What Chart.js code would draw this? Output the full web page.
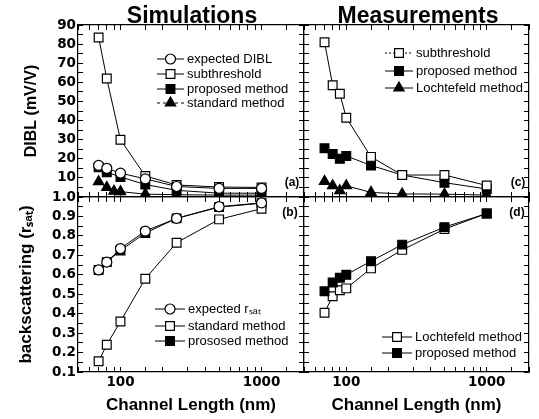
<!DOCTYPE html>
<html>
<head>
<meta charset="utf-8">
<script src="https://cdn.jsdelivr.net/npm/chart.js@4.4.0/dist/chart.umd.min.js"></script>
<style>
body { margin: 0; background: #fff; }
#wrap { position: relative; width: 539px; height: 419px; }
#wrap canvas { position: absolute; left: 0; top: 0; }
</style>
</head>
<body>
<div id="wrap">
    <canvas id="simDibl" width="539" height="419"></canvas>
    <canvas id="measDibl" width="539" height="419"></canvas>
    <canvas id="simRsat" width="539" height="419"></canvas>
    <canvas id="measRsat" width="539" height="419"></canvas>
</div>
<script>
/* =========================
   Data
========================= */
const simLength = [70, 80, 100, 150, 250, 500, 1000];
const simStdLength = [70, 80, 90, 100, 150, 250, 500, 1000];
const measLength = [70, 80, 90, 100, 150, 250, 500, 1000];

// (a) simulations, DIBL (mV/V)
const simExpectedDibl = [16.5, 15, 12.5, 9.5, 5.5, 4.5, 4.5];
const simSubthreshold = [83.5, 62, 30, 11, 6.3, 5.2, 5];
const simProposedDibl = [15.5, 13, 10.5, 6.5, 3.5, 2, 2];
const simStandardDibl = [8, 5, 3, 2.8, 1.5, 1.2, 1, 1];

// (c) measurements, DIBL (mV/V)
const measSubthreshold = [81, 58.5, 54, 41.5, 21, 11.5, 11.5, 6];
const measProposedDibl = [25.5, 22.5, 20, 21.5, 16.5, 11.5, 7.5, 4.2];
const measLochtefeldDibl = [8.2, 5.9, 3.3, 5.9, 2.4, 1.6, 1.5, 1];

// (b) simulations, backscattering
const simExpectedRsat = [0.625, 0.665, 0.735, 0.825, 0.89, 0.95, 0.97];
const simStandardRsat = [0.155, 0.24, 0.36, 0.58, 0.765, 0.885, 0.94];
const simProposedRsat = [0.625, 0.665, 0.725, 0.815, 0.89, 0.948, 0.968];

// (d) measurements, backscattering
const measLochtefeldRsat = [0.405, 0.49, 0.52, 0.53, 0.633, 0.728, 0.835, 0.915];
const measProposedRsat = [0.515, 0.56, 0.585, 0.6, 0.67, 0.755, 0.845, 0.915];

// tick labels
const diblTicks = [10, 20, 30, 40, 50, 60, 70, 80, 90];
const rsatTicks = [0.1, 0.2, 0.3, 0.4, 0.5, 0.6, 0.7, 0.8, 0.9, 1.0];
const lengthTicks = [100, 1000];


/* =========================
   Styles
========================= */
const TICK_FONT = { family: "'DejaVu Sans', sans-serif", size: 13.5, weight: "bold" };
const SANS = "'Liberation Sans', Arial, sans-serif";

const MARKERS = {
    openCircle: { pointStyle: "circle", r: 5, fill: "#fff" },
    openSquare: { pointStyle: "rect", r: 6.2, fill: "#fff" },
    filledSquare: { pointStyle: "rect", r: 6.2, fill: "#000" },
    triangle: { pointStyle: "triangle", r: 6, fill: "#000" }
};

function series(label, xs, ys, marker, legendDash, order) {
    const m = MARKERS[marker];
    return {
        label: label,
        data: xs.map((x, i) => ({ x: x, y: ys[i] })),
        borderColor: "#000",
        borderWidth: 1,
        legendDash: legendDash || [],
        pointStyle: m.pointStyle,
        pointRadius: m.r,
        pointBackgroundColor: m.fill,
        pointBorderColor: "#000",
        pointBorderWidth: 1.2,
        fill: false,
        tension: 0,
        order: order || 0
    };
}

function logAxis(position, showLabels) {
    return {
        type: "logarithmic",
        position: position,
        min: 50,
        max: 2000,
        border: { display: true, color: "#000", width: 1.2 },
        grid: { drawOnChartArea: false, drawTicks: true, tickLength: -5, tickColor: "#000", tickWidth: 1 },
        ticks: {
            display: showLabels,
            autoSkip: false,
            maxRotation: 0,
            padding: 7,
            color: "#000",
            font: TICK_FONT,
            callback: v => lengthTicks.includes(v) ? String(v) : ""
        },
        title: {
            display: showLabels,
            text: "Channel Length (nm)",
            color: "#000",
            font: { family: SANS, size: 17, weight: "bold" },
            padding: { top: 0, bottom: 3 }
        },
        afterFit: s => { s.height = showLabels ? 47 : 0; }
    };
}

function linAxis(position, min, max, step, labels, digits, width, title) {
    return {
        type: "linear",
        position: position,
        min: min,
        max: max,
        border: { display: true, color: "#000", width: 1.2 },
        grid: { drawOnChartArea: false, drawTicks: true, tickLength: -5, tickColor: "#000", tickWidth: 1 },
        ticks: {
            display: width > 0,
            autoSkip: false,
            stepSize: step,
            padding: 7,
            color: "#000",
            font: TICK_FONT,
            callback: v => {
                const hit = labels.find(t => Math.abs(t - v) < 1e-6);
                return hit === undefined ? "" : hit.toFixed(digits);
            }
        },
        title: title ? {
            display: true,
            text: title.text,
            color: "#000",
            font: { family: SANS, size: title.size, weight: "bold" },
            padding: { top: title.pad, bottom: 0 }
        } : { display: false },
        afterFit: s => { s.width = width; }
    };
}


/* =========================
   Decorations (legend, tags, headings)
========================= */
function drawMarker(ctx, style, r, x, y) {
    ctx.beginPath();
    if (style === "circle") {
        ctx.arc(x, y, r, 0, Math.PI * 2);
    } else if (style === "rect") {
        const s = r * Math.SQRT1_2;
        ctx.rect(x - s, y - s, 2 * s, 2 * s);
    } else {
        ctx.moveTo(x, y - r);
        ctx.lineTo(x + r * 0.866, y + r * 0.5);
        ctx.lineTo(x - r * 0.866, y + r * 0.5);
        ctx.closePath();
    }
    ctx.fill();
    ctx.stroke();
}

const decorPlugin = {
    id: "decor",
    afterDraw(chart, args, opts) {
        const ctx = chart.ctx;
        ctx.save();
        ctx.fillStyle = "#000";

        if (opts.heading) {
            ctx.font = "bold 23px " + SANS;
            ctx.textAlign = "center";
            ctx.textBaseline = "alphabetic";
            ctx.fillText(opts.heading.text, opts.heading.x, opts.heading.y);
        }

        if (opts.tag) {
            ctx.font = "bold 12px " + SANS;
            ctx.textAlign = "center";
            ctx.textBaseline = "middle";
            ctx.fillText(opts.tag.text, opts.tag.x, opts.tag.y);
        }

        if (opts.legend) {
            const lg = opts.legend;
            ctx.font = "13px " + SANS;
            ctx.textAlign = "left";
            ctx.textBaseline = "middle";
            chart.data.datasets.forEach((ds, i) => {
                const y = lg.rows[i];
                ctx.strokeStyle = "#000";
                ctx.lineWidth = 1;
                ctx.setLineDash(ds.legendDash);
                ctx.beginPath();
                ctx.moveTo(lg.x, y);
                ctx.lineTo(lg.x + lg.w, y);
                ctx.stroke();
                ctx.setLineDash([]);
                ctx.lineWidth = 1.2;
                ctx.fillStyle = ds.pointBackgroundColor;
                drawMarker(ctx, ds.pointStyle, ds.pointRadius, lg.x + lg.w / 2, y);
                ctx.fillStyle = "#000";
                ctx.fillText(ds.label, lg.x + lg.w + 3, y);
            });
        }
        ctx.restore();
    }
};

function makeChart(id, datasets, scales, padding, decor) {
    new Chart(document.getElementById(id), {
        type: "line",
        data: { datasets: datasets },
        options: {
            responsive: false,
            animation: false,
            devicePixelRatio: 1,
            events: [],
            layout: { padding: padding },
            scales: scales,
            plugins: {
                legend: { display: false },
                tooltip: { enabled: false },
                decor: decor
            }
        },
        plugins: [decorPlugin]
    });
}


/* =========================
   (a) Simulations - DIBL
========================= */
makeChart("simDibl", [
    series("expected DIBL", simLength, simExpectedDibl, "openCircle"),
    series("subthreshold", simLength, simSubthreshold, "openSquare"),
    series("proposed method", simLength, simProposedDibl, "filledSquare"),
    series("standard method", simStdLength, simStandardDibl, "triangle", [3, 3])
], {
    x: logAxis("bottom", false),
    xTop: logAxis("top", false),
    y: linAxis("left", 0, 90, 5, diblTicks, 0, 78, { text: "DIBL (mV/V)", size: 16, pad: 22 }),
    yRight: linAxis("right", 0, 90, 5, diblTicks, 0, 0)
}, { left: 0, top: 25, right: 235, bottom: 222 }, {
    heading: { text: "Simulations", x: 192, y: 23 },
    tag: { text: "(a)", x: 292, y: 183 },
    legend: { x: 157, w: 27, rows: [59, 74, 89, 103] }
});


/* =========================
   (c) Measurements - DIBL
========================= */
makeChart("measDibl", [
    series("subthreshold", measLength, measSubthreshold, "openSquare", [2, 2]),
    series("proposed method", measLength, measProposedDibl, "filledSquare"),
    series("Lochtefeld method", measLength, measLochtefeldDibl, "triangle")
], {
    x: logAxis("bottom", false),
    xTop: logAxis("top", false),
    y: linAxis("left", 0, 90, 5, diblTicks, 0, 0),
    yRight: linAxis("right", 0, 90, 5, diblTicks, 0, 0)
}, { left: 304, top: 25, right: 10, bottom: 222 }, {
    heading: { text: "Measurements", x: 418, y: 23 },
    tag: { text: "(c)", x: 518, y: 183 },
    legend: { x: 385, w: 28, rows: [53, 71, 88] }
});


/* =========================
   (b) Simulations - backscattering
========================= */
makeChart("simRsat", [
    series("expected r\u209B\u2090\u209C", simLength, simExpectedRsat, "openCircle"),
    series("standard method", simLength, simStandardRsat, "openSquare"),
    series("prososed method", simLength, simProposedRsat, "filledSquare", [], 1)
], {
    x: logAxis("bottom", true),
    xTop: logAxis("top", false),
    y: linAxis("left", 0.1, 1.0, 0.05, rsatTicks, 1, 78, { text: "backscattering (r\u209B\u2090\u209C)", size: 17, pad: 16 }),
    yRight: linAxis("right", 0.1, 1.0, 0.05, rsatTicks, 1, 0)
}, { left: 0, top: 197, right: 235, bottom: 0 }, {
    tag: { text: "(b)", x: 290, y: 213 },
    legend: { x: 155, w: 30, rows: [309, 326, 341] }
});


/* =========================
   (d) Measurements - backscattering
========================= */
makeChart("measRsat", [
    series("Lochtefeld method", measLength, measLochtefeldRsat, "openSquare", [], 1),
    series("proposed method", measLength, measProposedRsat, "filledSquare", [], 0)
], {
    x: logAxis("bottom", true),
    xTop: logAxis("top", false),
    y: linAxis("left", 0.1, 1.0, 0.05, rsatTicks, 1, 0),
    yRight: linAxis("right", 0.1, 1.0, 0.05, rsatTicks, 1, 0)
}, { left: 304, top: 197, right: 10, bottom: 0 }, {
    tag: { text: "(d)", x: 517, y: 213 },
    legend: { x: 382, w: 30, rows: [337, 353] }
});
</script>
</body>
</html>
